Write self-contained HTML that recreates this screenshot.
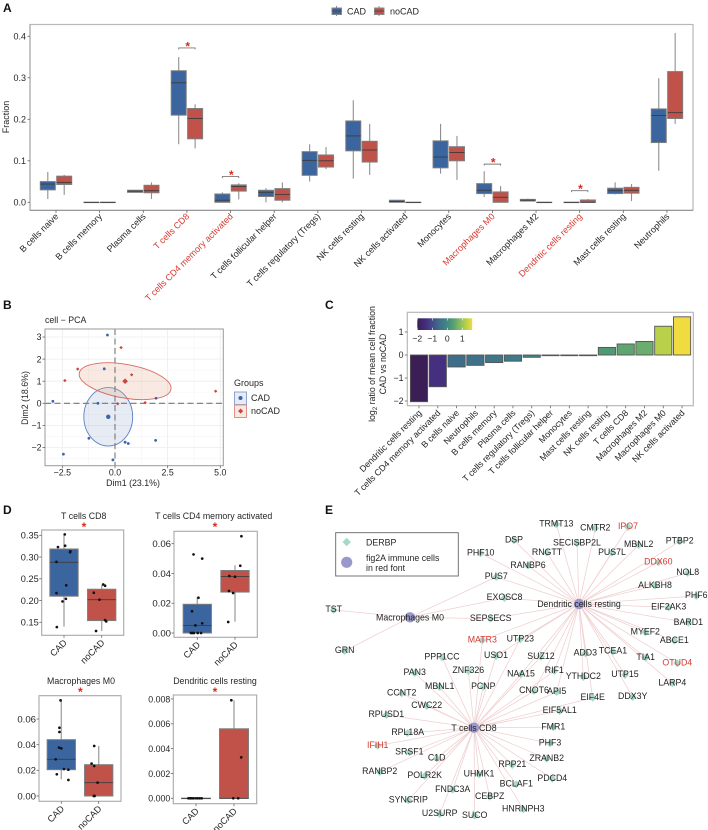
<!DOCTYPE html>
<html lang="en">
<head>
<meta charset="utf-8">
<title>Immune cell fractions CAD vs noCAD</title>
<style>
html,body{margin:0;padding:0;background:#fff;}
#fig{display:block;filter:blur(.3px);font-family:"Liberation Sans",Arial,sans-serif;fill:#262626;}
text{font-family:"Liberation Sans",Arial,sans-serif;}
.pl{font-size:12px;font-weight:bold;fill:#111;}
</style>
</head>
<body>
<svg id="fig" width="708" height="830" viewBox="0 0 708 830" xmlns="http://www.w3.org/2000/svg">
<rect x="0" y="0" width="708" height="830" fill="#fff"/>
<text class="pl" x="3" y="12">A</text>
<text class="pl" x="3" y="309">B</text>
<text class="pl" x="325" y="309">C</text>
<text class="pl" x="3" y="514">D</text>
<text class="pl" x="325" y="514">E</text>

<g id="panelA">
  <text x="9" y="117" font-size="9" text-anchor="middle" transform="rotate(-90 9 117)">Fraction</text>
  <g>
    <line x1="336.5" y1="6" x2="336.5" y2="16" stroke="#888" stroke-width="1"/>
    <rect x="332" y="8" width="9.5" height="6.5" fill="#3a659f" stroke="#888" stroke-width="1"/>
    <line x1="332" y1="11" x2="341.5" y2="11" stroke="#444" stroke-width=".8"/>
    <text x="347" y="14.5" font-size="9">CAD</text>
  </g>
  <g>
    <line x1="379" y1="6" x2="379" y2="16" stroke="#888" stroke-width="1"/>
    <rect x="374.5" y="8" width="9.5" height="6.5" fill="#c0524a" stroke="#888" stroke-width="1"/>
    <line x1="374.5" y1="11" x2="384" y2="11" stroke="#444" stroke-width=".8"/>
    <text x="390" y="14.5" font-size="9">noCAD</text>
  </g>
</g>

<g id="panelB">
  <text x="45" y="323" font-size="8.8">cell − PCA</text>
  <text x="133" y="486" font-size="8.8" text-anchor="middle">Dim1 (23.1%)</text>
  <text x="28" y="398" font-size="8.8" text-anchor="middle" transform="rotate(-90 28 398)">Dim2 (18.6%)</text>
  <text x="234" y="386" font-size="9">Groups</text>
  <g>
    <rect x="234.5" y="392" width="12" height="12.5" fill="#e6ebf5" stroke="#8aa4d4" stroke-width="1"/>
    <circle cx="240.5" cy="398" r="2" fill="#3a659f"/>
    <text x="251" y="401" font-size="9">CAD</text>
  </g>
  <g>
    <rect x="234.5" y="405" width="12" height="12.5" fill="#f8e8e0" stroke="#e0918a" stroke-width="1"/>
    <rect x="238.8" y="409.3" width="3.6" height="3.6" fill="#c9473f" transform="rotate(45 240.6 411.1)"/>
    <text x="251" y="414" font-size="9">noCAD</text>
  </g>
</g>

<g id="panelC">
  <text x="375" y="364" font-size="8.8" text-anchor="middle" transform="rotate(-90 375 364)">log<tspan font-size="6" dy="2">2</tspan><tspan dy="-2"> ratio of mean cell fraction</tspan></text>
  <text x="386" y="364" font-size="8.8" text-anchor="middle" transform="rotate(-90 386 364)">CAD vs noCAD</text>
</g>

<g id="panelD"></g>

<g id="panelE">
  <g id="edges"></g>
  <g id="nodes"></g>
  <g>
    <rect x="335.7" y="532.7" width="122.6" height="43.3" fill="#fff" stroke="#666" stroke-width=".9"/>
    <rect x="343.7" y="539" width="6" height="6" fill="#a8d8c8" transform="rotate(45 346.7 542)"/>
    <circle cx="346.7" cy="562.3" r="5.6" fill="#9a98cc"/>
    <text x="366" y="545.5" font-size="8.8">DERBP</text>
    <text x="366" y="561" font-size="8.8">fig2A immune cells</text>
    <text x="366" y="571" font-size="8.8">in red font</text>
  </g>
</g>
</svg>

<script>
/* ---------- Panel A data ---------- */
const aCategories = ["B cells naive","B cells memory","Plasma cells","T cells CD8","T cells CD4 memory activated","T cells follicular helper","T cells regulatory (Tregs)","NK cells resting","NK cells activated","Monocytes","Macrophages M0","Macrophages M2","Dendritic cells resting","Mast cells resting","Neutrophils"];
const aHighlighted = ["T cells CD8","T cells CD4 memory activated","Macrophages M0","Dendritic cells resting"];
const aTicks = [0,0.1,0.2,0.3,0.4];
const aCadLow  = [.008,0,.024,.14,0,0,.05,.057,0,.069,.013,.002,0,.019,.076];
const aCadQ1   = [.03,0,.024,.21,0,.014,.065,.124,0,.083,.021,.003,0,.021,.144];
const aCadMed  = [.044,0,.027,.288,.005,.024,.101,.16,.002,.109,.029,.005,0,.028,.209];
const aCadQ3   = [.05,0,.029,.317,.02,.029,.122,.196,.005,.148,.045,.007,0,.034,.225];
const aCadHigh = [.073,0,.03,.35,.024,.034,.14,.246,.006,.189,.075,.009,0,.048,.299];
const aNoLow   = [.018,0,.008,.13,.007,0,.08,.066,0,.054,0,0,0,.003,.189];
const aNoQ1    = [.043,0,.023,.153,.027,.005,.085,.097,0,.1,0,0,0,.022,.202];
const aNoMed   = [.048,0,.028,.202,.038,.019,.1,.126,0,.12,.012,0,0,.029,.216];
const aNoQ3    = [.063,0,.041,.226,.042,.033,.114,.147,0,.134,.025,0,.0056,.036,.315];
const aNoHigh  = [.066,0,.048,.236,.046,.048,.133,.189,0,.16,.039,0,.008,.044,.408];
const aSigCategories = ["T cells CD8","T cells CD4 memory activated","Macrophages M0","Dendritic cells resting"];
const aSigHeights = [.372,.062,.092,.028];

/* ---------- Panel B data ---------- */
const bCadX = [-.36,-.51,-2.95,-.81,1.95,-1.24,.48,.63,1.93,-2.45,-.1];
const bCadY = [3.09,1.56,.09,0,.23,-1.58,-1.76,-1.82,-1.68,-2.3,-2.56];
const bNoX  = [.29,-1.77,-2.38,.79,4.78,.13,1.43];
const bNoY  = [2.52,1.55,1.03,1.29,.55,-.02,.03];
const bCadCentroid = [-.32,-.61];
const bNoCentroid  = [.48,1.0];
const bCadRadii = [1.16,1.32];
const bNoRadii  = [2.21,.76];
const bXTicks = [-2.5,0,2.5,5];
const bYTicks = [-2,-1,0,1,2,3];

/* ---------- Panel C data ---------- */
const cCategories = ["Dendritic cells resting","T cells CD4 memory activated","B cells naive","Neutrophils","B cells memory","Plasma cells","T cells regulatory (Tregs)","T cells follicular helper","Monocytes","Mast cells resting","NK cells resting","T cells CD8","Macrophages M2","Macrophages M0","NK cells activated"];
const cValues = [-2.03,-1.38,-.52,-.45,-.33,-.27,-.1,-.03,-.03,-.03,.33,.48,.59,1.25,1.66];
const cTicks = [-2,-1,0,1];

/* ---------- Panel D data ---------- */
const d1Ticks = [.15,.2,.25,.3,.35];
const d1CadBox = [.14,.21,.288,.3185,.35];
const d1NoBox  = [.13,.154,.202,.226,.236];
const d1CadPos = [1.02,.84,1.03,1.17,1.16,.80,1.06,.80,1.05,.96,.81];
const d1CadVal = [.352,.323,.326,.313,.311,.289,.235,.217,.204,.198,.139];
const d1NoPos  = [2.04,2.09,1.79,1.94,2.09,2.12,1.85];
const d1NoVal  = [.237,.234,.218,.202,.155,.152,.13];

const d2Ticks = [0,.02,.04,.06];
const d2CadBox = [0,0,.005,.0193,.024];
const d2NoBox  = [.0076,.0275,.038,.042,.0455];
const d2CadPos = [.90,1.13,1.03,.86,1.13,.95,.83,.87,.91,1.01,1.10];
const d2CadVal = [.0528,.05,.0237,.0146,.0065,.0051,0,0,0,0,0];
const d2NoPos  = [2.17,2.14,1.85,2.0,1.84,1.95,1.82];
const d2NoVal  = [.065,.0452,.0383,.0378,.0282,.0269,.0074];

const d3Ticks = [0,.02,.04,.06];
const d3CadBox = [.013,.0205,.0286,.0439,.075];
const d3NoBox  = [0,0,.0104,.0244,.039];
const d3CadPos = [.98,.95,.95,.94,1.0,.85,1.07,1.19,.88,1.19];
const d3CadVal = [.0745,.0532,.0499,.0377,.0371,.0286,.021,.0205,.0169,.0125];
const d3NoPos  = [1.88,1.81,1.88,1.97,1.87,1.89];
const d3NoVal  = [.039,.0252,.0234,.0104,0,0];

const d4Ticks = [0,.002,.004,.006,.008];
const d4CadBox = [0,0,0,0,0];
const d4NoBox  = [0,0,0,.0056,.0079];
const d4CadPos = [.8,.84,.87,.9,.94,1.0,1.05,1.1,1.15];
const d4CadVal = [0,0,0,0,0,0,0,0,0];
const d4NoPos  = [1.93,2.19,1.98,2.11];
const d4NoVal  = [.0079,.0033,0,0];

/* ---------- Panel E data ---------- */
const eHubs = {"Macrophages M0":[410,617.3],"Dendritic cells resting":[579,604],"T cells CD8":[474,727.7]};
const eNodes = {
 TRMT13:[556.3,523.3],CMTR2:[595.3,527.3],IPO7:[628,526],PTBP2:[679.7,540.3],SECISBP2L:[577,542.3],MBNL2:[638.7,544],RNGTT:[547,551.7],PUS7L:[612,551.7],DDX60:[658.3,561.3],RANBP6:[528,564.7],NOL8:[687.7,572],ALKBH8:[655,584.7],PHF6:[696.3,595],EXOSC8:[504.5,597],EIF2AK3:[668.7,606.3],BARD1:[688.3,621.7],MYEF2:[645.3,631.3],ABCE1:[674.3,639.7],UTP23:[520.3,638.3],SUZ12:[541,655.7],ADD3:[585.3,652.3],TCEA1:[613,650.3],TIA1:[645.7,656.7],OTUD4:[677.3,662.3],DSP:[514,539.3],PHF10:[480.7,552.3],PUS7:[496.3,576],TST:[333.7,609],GRN:[344.7,650],SEPSECS:[490.7,617.7],MATR3:[482.3,639.3],USO1:[496,655],PPP1CC:[442,656.3],PAN3:[414.7,672],ZNF326:[468.3,670],NAA15:[521,673.3],RIF1:[554.3,670],YTHDC2:[583.3,676],UTP15:[625,674],LARP4:[672.3,682.3],MBNL1:[439.7,686],PCNP:[483.3,685.7],CNOT6:[534,690],API5:[556.7,691],EIF4E:[592.7,696.7],DDX3Y:[632.7,696],CCNT2:[401.7,692.3],CWC22:[426.7,705],RPUSD1:[386.3,714],EIF5AL1:[559.7,710],FMR1:[553.3,726.3],RPL18A:[407.7,732],PHF3:[550,742.3],IFIH1:[377.7,744.7],SRSF1:[409.3,751.3],C1D:[436.7,757.3],ZRANB2:[546.7,757.7],RPP21:[512.3,764],RANBP2:[379.7,771],UHMK1:[479,773.3],POLR2K:[424.7,775],PDCD4:[552.3,777.7],BCLAF1:[516.3,783.3],FNDC3A:[452.7,788.7],CEBPZ:[489.7,795.7],SYNCRIP:[408.3,799.3],HNRNPH3:[523.3,808.3],U2SURP:[439.7,813],SUCO:[474.7,814.7]
};
const eRedNodes = ["IPO7","DDX60","OTUD4","MATR3","IFIH1"];
const eMacrophageLinks = ["TST","GRN","PUS7","EXOSC8","SEPSECS"];
const eDendriticLinks = ["TRMT13","CMTR2","IPO7","PTBP2","SECISBP2L","MBNL2","RNGTT","PUS7L","DDX60","RANBP6","NOL8","ALKBH8","PHF6","EIF2AK3","BARD1","MYEF2","ABCE1","OTUD4","TIA1","LARP4","UTP15","TCEA1","ADD3","DDX3Y","EIF4E","YTHDC2","SUZ12","RIF1","NAA15","API5","UTP23","USO1","CNOT6","MATR3","SEPSECS","EXOSC8","DSP","PHF10","PUS7"];
const eCd8Links = ["PPP1CC","ZNF326","PCNP","MBNL1","PAN3","CCNT2","CWC22","RPUSD1","RPL18A","IFIH1","SRSF1","C1D","RANBP2","POLR2K","SYNCRIP","FNDC3A","U2SURP","SUCO","UHMK1","CEBPZ","BCLAF1","HNRNPH3","RPP21","PDCD4","ZRANB2","PHF3","FMR1","EIF5AL1","EIF4E","API5","CNOT6","NAA15","RIF1","SUZ12","USO1","UTP23","MATR3"];

/* ---------- helpers ---------- */
const NS = "http://www.w3.org/2000/svg";
const BLUE = "#3a659f", RED = "#c0524a", TXTRED = "#d8382e", INK = "#262626";
function mk(tag, attrs, parent, txt){
  const e = document.createElementNS(NS, tag);
  for (const k in attrs) e.setAttribute(k, attrs[k]);
  if (txt !== undefined) e.textContent = txt;
  parent.appendChild(e);
  return e;
}
function scale(d0, d1, r0, r1){ return v => r0 + (v - d0) * (r1 - r0) / (d1 - d0); }
function fmt(v, digits){ return v.toFixed(digits).replace("-", "\u2212"); }
function seg(g, x1, y1, x2, y2, stroke, w){ return mk("line", {x1, y1, x2, y2, stroke, "stroke-width": w}, g); }

function drawBox(parent, cx, w, s, fill, y, whiskerColor, whiskerWidth, name){
  const g = mk("g", {}, parent);
  
  
  const low = seg(g, cx, y(s[1]), cx, y(s[0]), whiskerColor, whiskerWidth);
  
  
  const high = seg(g, cx, y(s[3]), cx, y(s[4]), whiskerColor, whiskerWidth);
  
  
  const r = mk("rect", {x: cx - w / 2, y: y(s[3]), width: w, height: Math.max(y(s[1]) - y(s[3]), .3), fill, stroke: "#7d7d7d", "stroke-width": 1}, g);
  
  
  const m = seg(g, cx - w / 2, y(s[2]), cx + w / 2, y(s[2]), "#3d3d3d", .9);
  
  
}
function star(parent, x, y){
  const t = mk("text", {x, y, "font-size": 12, "text-anchor": "middle", fill: "#e0261c", "font-weight": "bold"}, parent, "*");
  
  
}

/* ---------- Panel A ---------- */
(function(){
  const g = document.getElementById("panelA");
  const y = scale(0, .4, 202.3, 36.3);
  const x = i => 56 + 43.64 * i;
  const frame = mk("rect", {x: 30, y: 24.5, width: 663, height: 185.8, fill: "none", stroke: "#b8b8b8", "stroke-width": 1.2}, g);
  
  
  const axB = seg(g, 30, 210.3, 693, 210.3, "#888", .9);
  
  
  const axL = seg(g, 30, 24.5, 30, 210.3, "#999", .9);
  
  
  aTicks.forEach(v => {
    const tk = seg(g, 27.5, y(v), 30, y(v), "#666", .8);
    
    
    const t = mk("text", {x: 26, y: y(v) + 3.2, "font-size": 9, "text-anchor": "end", fill: INK}, g, v.toFixed(1));
    
    
  });
  aCategories.forEach((c, i) => {
    const tk = seg(g, x(i), 210.3, x(i), 213, "#666", .8);
    
    
    const hl = aHighlighted.includes(c);
    const lx = x(i) + 3, ly = 217;
    const t = mk("text", {x: lx, y: ly, "font-size": 9, "text-anchor": "end", fill: hl ? TXTRED : INK, transform: `rotate(-45 ${lx} ${ly})`}, g, c);
    
    
    drawBox(g, x(i) - 8.2, 15, [aCadLow[i], aCadQ1[i], aCadMed[i], aCadQ3[i], aCadHigh[i]], BLUE, y, "#8f8f8f", 1.1, "box-cad");
    drawBox(g, x(i) + 8.2, 15, [aNoLow[i], aNoQ1[i], aNoMed[i], aNoQ3[i], aNoHigh[i]], RED, y, "#8f8f8f", 1.1, "box-nocad");
  });
  aSigCategories.forEach((c, k) => {
    const i = aCategories.indexOf(c), h = y(aSigHeights[k]);
    const br = mk("path", {d: `M${x(i) - 8.2} ${h + 1.5}V${h}H${x(i) + 8.2}V${h + 1.5}`, fill: "none", stroke: "#777", "stroke-width": .9}, g);
    
    
    star(g, x(i) + .8, h + 2.5);
  });
})();

/* ---------- Panel B ---------- */
(function(){
  const g = document.getElementById("panelB");
  const x = scale(0, 5, 115, 220.3), y = scale(0, 3, 403.3, 337);
  const L = 45, R = 223.3, T = 329, B = 465.7;
  const grid = mk("g", {}, g);
  
  
  bXTicks.forEach(v => {
    seg(grid, x(v), T, x(v), B, "#ececec", .8);
    if (x(v + 1.25) < R) seg(grid, x(v + 1.25), T, x(v + 1.25), B, "#f4f4f4", .6);
  });
  bYTicks.forEach(v => {
    seg(grid, L, y(v), R, y(v), "#ececec", .8);
    if (y(v + .5) > T) seg(grid, L, y(v + .5), R, y(v + .5), "#f4f4f4", .6);
  });
  seg(grid, L, y(-2.5), R, y(-2.5), "#f4f4f4", .6);
  const pxX = (x(1) - x(0)), pxY = (y(0) - y(1));
  const e1 = mk("ellipse", {cx: x(bCadCentroid[0]), cy: y(bCadCentroid[1]), rx: bCadRadii[0] * pxX, ry: bCadRadii[1] * pxY, fill: "#8da3cf", "fill-opacity": .22, stroke: "#5f83c4", "stroke-width": .9}, g);
  
  
  const cxN = x(bNoCentroid[0]), cyN = y(bNoCentroid[1]);
  const e2 = mk("ellipse", {cx: cxN, cy: cyN, rx: bNoRadii[0] * pxX, ry: bNoRadii[1] * pxY, fill: "#e3a884", "fill-opacity": .24, stroke: "#d96a62", "stroke-width": .9, transform: `rotate(10 ${cxN} ${cyN})`}, g);
  
  
  const h0 = mk("line", {x1: L, y1: y(0), x2: R, y2: y(0), stroke: "#777", "stroke-width": 1.1, "stroke-dasharray": "6 3.5"}, g);
  
  
  const v0 = mk("line", {x1: x(0), y1: T, x2: x(0), y2: B, stroke: "#777", "stroke-width": 1.1, "stroke-dasharray": "6 3.5"}, g);
  
  
  bCadX.forEach((v, i) => {
    const p = mk("circle", {cx: x(v), cy: y(bCadY[i]), r: 1.4, fill: "#3a65ad"}, g);
    
    
  });
  bNoX.forEach((v, i) => {
    const cx = x(v), cy = y(bNoY[i]);
    const p = mk("rect", {x: cx - 1.2, y: cy - 1.2, width: 2.4, height: 2.4, fill: "#d1443a", transform: `rotate(45 ${cx} ${cy})`}, g);
    
    
  });
  const c1 = mk("circle", {cx: x(bCadCentroid[0]), cy: y(bCadCentroid[1]), r: 2.2, fill: "#3a65ad"}, g);
  
  
  const c2 = mk("rect", {x: cxN - 2, y: cyN - 2, width: 4, height: 4, fill: "#d1443a", transform: `rotate(45 ${cxN} ${cyN})`}, g);
  
  
  const fr = mk("rect", {x: L, y: T, width: R - L, height: B - T, fill: "none", stroke: "#9a9a9a", "stroke-width": 1}, g);
  
  
  bXTicks.forEach(v => {
    const tk = seg(g, x(v), B, x(v), B + 2.5, "#666", .8);
    
    
    const t = mk("text", {x: x(v), y: 475.5, "font-size": 8.8, "text-anchor": "middle", fill: INK}, g, fmt(v, 1));
    
    
  });
  bYTicks.forEach(v => {
    const tk = seg(g, L - 2.5, y(v), L, y(v), "#666", .8);
    
    
    const t = mk("text", {x: L - 3.5, y: y(v) + 3.2, "font-size": 8.8, "text-anchor": "end", fill: INK}, g, fmt(v, 0));
    
    
  });
})();

/* ---------- Panel C ---------- */
(function(){
  const g = document.getElementById("panelC");
  const y = scale(0, 1, 355, 332);
  const x = i => 419 + 18.79 * i;
  const stops = [[-2.03,[59,30,86]],[-1.38,[68,48,127]],[-.9,[66,84,138]],[-.5,[63,111,139]],[-.27,[61,122,138]],[0,[65,138,128]],[.33,[79,154,116]],[.59,[106,173,108]],[1.25,[184,208,74]],[1.66,[240,220,64]]];
  function color(v){
    for (let i = 0; i < stops.length - 1; i++) {
      const a = stops[i], b = stops[i + 1];
      if (v <= b[0]) {
        const t = Math.max(0, (v - a[0]) / (b[0] - a[0]));
        return "rgb(" + a[1].map((c, k) => Math.round(c + (b[1][k] - c) * t)).join(",") + ")";
      }
    }
    return "rgb(240,220,64)";
  }
  const fr = mk("rect", {x: 407.3, y: 312.3, width: 286, height: 93.4, fill: "none", stroke: "#b8b8b8", "stroke-width": 1.2}, g);
  
  
  cTicks.forEach(v => {
    const tk = seg(g, 404.8, y(v), 407.3, y(v), "#666", .8);
    
    
    const t = mk("text", {x: 403.5, y: y(v) + 3.2, "font-size": 8.8, "text-anchor": "end", fill: INK}, g, fmt(v, 0));
    
    
  });
  cCategories.forEach((c, i) => {
    const v = cValues[i], top = Math.min(y(0), y(v));
    const b = mk("rect", {x: x(i) - 8.6, y: top, width: 17.2, height: Math.abs(y(v) - y(0)), fill: color(v), stroke: "#555", "stroke-width": .9}, g);
    
    
    const tk = seg(g, x(i), 405.7, x(i), 408.3, "#666", .8);
    
    
    const lx = x(i) + 3.2, ly = 413.5;
    const t = mk("text", {x: lx, y: ly, "font-size": 8.8, "text-anchor": "end", fill: INK, transform: `rotate(-45 ${lx} ${ly})`}, g, c);
    
    
  });
  /* colour bar */
  const cbX = scale(-2, 1, 417.3, 462.3);
  const grad = mk("linearGradient", {id: "cgrad", x1: 0, x2: 1, y1: 0, y2: 0}, g);
  const vMin = -2, vMax = 1.66;
  for (let k = 0; k <= 12; k++) {
    const v = vMin + (vMax - vMin) * k / 12;
    mk("stop", {offset: (k / 12 * 100) + "%", "stop-color": color(v)}, grad);
  }
  const bar = mk("rect", {x: cbX(vMin), y: 318.3, width: cbX(vMax) - cbX(vMin), height: 11.7, fill: "url(#cgrad)"}, g);
  
  
  cTicks.forEach(v => {
    const t1 = seg(g, cbX(v), 318.3, cbX(v), 320.5, "#fff", .6);
    
    
    const t2 = seg(g, cbX(v), 327.8, cbX(v), 330, "#fff", .6);
    
    
    const t = mk("text", {x: cbX(v), y: 341.3, "font-size": 8.6, "text-anchor": "middle", fill: INK}, g, fmt(v, 0));
    
    
  });
})();

/* ---------- Panel D ---------- */
function drawD(o){
  const root = document.getElementById("panelD");
  const g = mk("g", {}, root);
  
  
  const y = scale(o.v0, o.v1, o.y0, o.y1);
  const x = scale(1, 2, o.cad, o.no);
  const title = mk("text", {x: o.titleX, y: o.titleY, "font-size": 8.8, "text-anchor": "middle", fill: INK}, g, o.title);
  
  
  star(g, o.starX, o.titleY + 12);
  drawBox(g, x(1), o.bw, o.cadBox, BLUE, y, "#a8a8a8", 1.4, "box-cad");
  drawBox(g, x(2), o.bw, o.noBox, RED, y, "#a8a8a8", 1.4, "box-nocad");
  o.cadPos.forEach((p, i) => {
    const c = mk("circle", {cx: x(p), cy: y(o.cadVal[i]), r: 1.35, fill: "#111"}, g);
    
    
  });
  o.noPos.forEach((p, i) => {
    const c = mk("circle", {cx: x(p), cy: y(o.noVal[i]), r: 1.35, fill: "#111"}, g);
    
    
  });
  const fr = mk("rect", {x: o.L, y: o.T, width: o.R - o.L, height: o.B - o.T, fill: "none", stroke: "#a8a8a8", "stroke-width": 1.1}, g);
  
  
  o.ticks.forEach(v => {
    const tk = seg(g, o.L - 2.5, y(v), o.L, y(v), "#666", .8);
    
    
    const t = mk("text", {x: o.L - 3, y: y(v) + 3.3, "font-size": o.fs, "text-anchor": "end", fill: INK}, g, v.toFixed(o.digits));
    
    
  });
  ["CAD", "noCAD"].forEach((c, i) => {
    const cx = x(i + 1);
    const tk = seg(g, cx, o.B, cx, o.B + 2.5, "#666", .8);
    
    
    const lx = cx + 3.5, ly = o.B + 8;
    const t = mk("text", {x: lx, y: ly, "font-size": 9.2, "text-anchor": "end", fill: INK, transform: `rotate(-45 ${lx} ${ly})`}, g, c);
    
    
  });
}
drawD({name:"boxplot-t-cells-cd8",title:"T cells CD8",titleX:83.7,starX:84,titleY:519,L:41.7,R:123.7,T:530,B:635.3,v0:.35,v1:.15,y0:535.3,y1:622.3,cad:64,no:101.7,bw:28.3,ticks:d1Ticks,digits:2,fs:9.2,cadBox:d1CadBox,noBox:d1NoBox,cadPos:d1CadPos,cadVal:d1CadVal,noPos:d1NoPos,noVal:d1NoVal});
drawD({name:"boxplot-t-cells-cd4",title:"T cells CD4 memory activated",titleX:213.7,starX:215,titleY:519,L:174,R:257.3,T:531.3,B:637.3,v0:0,v1:.06,y0:633,y1:543.7,cad:197.3,no:235,bw:28.3,ticks:d2Ticks,digits:2,fs:9.6,cadBox:d2CadBox,noBox:d2NoBox,cadPos:d2CadPos,cadVal:d2CadVal,noPos:d2NoPos,noVal:d2NoVal});
drawD({name:"boxplot-macrophages-m0",title:"Macrophages M0",titleX:81,starX:80.3,titleY:684,L:39,R:121,T:695.7,B:801.3,v0:0,v1:.06,y0:796,y1:719,cad:61.3,no:98.7,bw:28.3,ticks:d3Ticks,digits:2,fs:9.6,cadBox:d3CadBox,noBox:d3NoBox,cadPos:d3CadPos,cadVal:d3CadVal,noPos:d3NoPos,noVal:d3NoVal});
drawD({name:"boxplot-dendritic-cells-resting",title:"Dendritic cells resting",titleX:215,starX:215,titleY:684,L:173.3,R:256.7,T:695,B:803.7,v0:0,v1:.008,y0:798.3,y1:699,cad:196,no:234,bw:29,ticks:d4Ticks,digits:3,fs:8.8,cadBox:d4CadBox,noBox:d4NoBox,cadPos:d4CadPos,cadVal:d4CadVal,noPos:d4NoPos,noVal:d4NoVal});

/* ---------- Panel E ---------- */
(function(){
  const eg = document.getElementById("edges"), ng = document.getElementById("nodes");
  const links = [["Macrophages M0", eMacrophageLinks], ["Dendritic cells resting", eDendriticLinks], ["T cells CD8", eCd8Links]];
  links.forEach(([hub, list]) => {
    const h = eHubs[hub];
    list.forEach(n => {
      const p = eNodes[n];
      const l = seg(eg, h[0], h[1], p[0], p[1] + 1, "#f0cfcf", .75);
      
      
    });
  });
  Object.keys(eNodes).forEach(n => {
    const p = eNodes[n], cy = p[1] + 1;
    const d = mk("rect", {x: p[0] - 2.8, y: cy - 2.8, width: 5.6, height: 5.6, fill: "#a8d8c8", transform: `rotate(45 ${p[0]} ${cy})`}, ng);
    
    
  });
  Object.keys(eHubs).forEach(n => {
    const p = eHubs[n];
    const c = mk("circle", {cx: p[0], cy: p[1], r: 5.2, fill: "#9a98cc"}, ng);
    
    
  });
  Object.keys(eNodes).forEach(n => {
    const p = eNodes[n];
    const t = mk("text", {x: p[0], y: p[1] + 3.1, "font-size": 8.8, "text-anchor": "middle", fill: eRedNodes.includes(n) ? TXTRED : "#222"}, ng, n);
    
    
  });
  Object.keys(eHubs).forEach(n => {
    const p = eHubs[n];
    const t = mk("text", {x: p[0], y: p[1] + 3.2, "font-size": 8.8, "text-anchor": "middle", fill: "#222"}, ng, n);
    
    
  });
})();
</script>
</body>
</html>
